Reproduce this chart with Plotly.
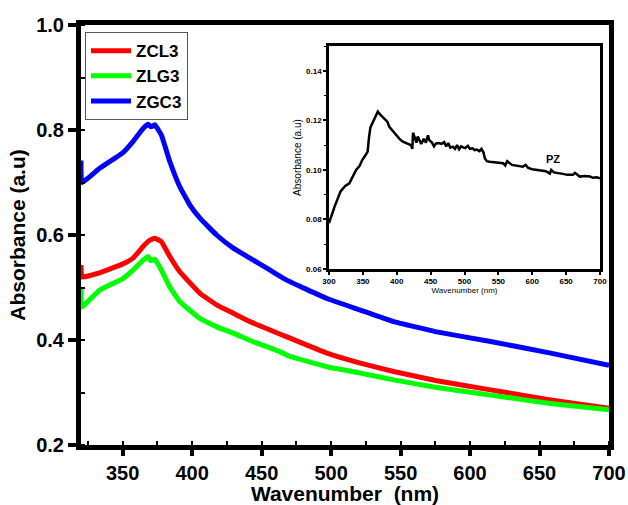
import plotly.graph_objects as go

# Main spectra (wavelength nm, absorbance)
zgc3_x = [320, 320.6, 333.4, 350.2, 357.4, 364.7, 368.3, 370.5, 373.1, 377.9, 383.9, 391.1, 398.4, 405.6, 417.6, 429.6, 441.6, 456.1, 468.1, 497, 521, 545, 575, 614.8, 658, 700]
zgc3_y = [0.742, 0.700, 0.727, 0.757, 0.778, 0.803, 0.811, 0.806, 0.810, 0.790, 0.740, 0.692, 0.657, 0.632, 0.600, 0.575, 0.556, 0.533, 0.514, 0.479, 0.457, 0.435, 0.416, 0.397, 0.375, 0.352]

zcl3_x = [320, 320.6, 333.4, 350.2, 357.4, 364.7, 369, 373.1, 377.9, 383.9, 391.1, 405.6, 417.6, 429.6, 441.6, 456.1, 468.1, 497, 521, 545, 575, 614.8, 658, 700]
zcl3_y = [0.543, 0.520, 0.528, 0.545, 0.556, 0.578, 0.589, 0.594, 0.587, 0.559, 0.530, 0.489, 0.467, 0.451, 0.435, 0.419, 0.406, 0.375, 0.356, 0.340, 0.323, 0.305, 0.286, 0.270]

zlg3_x = [320, 320.6, 333.4, 350.2, 357.4, 364.7, 368.3, 370.2, 373.1, 377.9, 383.9, 391.1, 405.6, 417.6, 429.6, 441.6, 456.1, 467, 469, 497, 521, 545, 575, 614.8, 658, 700]
zlg3_y = [0.499, 0.463, 0.495, 0.517, 0.533, 0.552, 0.559, 0.551, 0.554, 0.533, 0.501, 0.473, 0.441, 0.425, 0.413, 0.399, 0.385, 0.373, 0.370, 0.349, 0.337, 0.324, 0.310, 0.295, 0.279, 0.267]

# Inset PZ spectrum
pz_x = [300, 308, 317, 324, 330, 336, 340, 345, 349, 354, 357, 359, 361, 364, 368, 372, 375, 379, 383, 386, 389, 394, 399, 404, 409, 414, 418, 421, 423, 424, 426, 429, 431, 433, 436, 440, 443, 446, 448, 452, 455, 458, 462, 466, 470, 473, 476, 479, 483, 486, 489, 492, 495, 498, 501, 505, 508, 512, 515, 518, 522, 525, 528, 530, 533, 537, 545, 552, 557, 560, 563, 570, 578, 586, 590, 594, 600, 611, 620, 626, 628, 632, 636, 645, 652, 660, 663, 670, 678, 685, 690, 695, 700]
pz_y = [0.0785, 0.085, 0.0913, 0.0935, 0.0946, 0.0975, 0.100, 0.1015, 0.104, 0.106, 0.1074, 0.113, 0.117, 0.1188, 0.121, 0.1235, 0.1225, 0.1215, 0.1205, 0.1195, 0.1174, 0.1158, 0.1141, 0.1125, 0.1114, 0.1108, 0.1105, 0.1100, 0.1085, 0.1150, 0.1135, 0.1110, 0.1135, 0.1125, 0.1105, 0.1125, 0.1110, 0.1140, 0.1120, 0.1110, 0.1095, 0.1107, 0.1108, 0.1105, 0.1112, 0.1095, 0.1108, 0.1090, 0.1094, 0.1085, 0.1100, 0.1083, 0.1095, 0.1091, 0.1088, 0.1097, 0.1085, 0.1087, 0.1080, 0.1082, 0.1076, 0.1085, 0.1070, 0.1047, 0.1035, 0.1033, 0.1030, 0.1027, 0.1027, 0.1018, 0.1035, 0.1020, 0.1015, 0.1013, 0.1020, 0.1008, 0.1003, 0.1000, 0.0995, 0.0985, 0.1000, 0.0990, 0.0989, 0.0984, 0.0980, 0.0980, 0.0988, 0.0973, 0.0975, 0.0973, 0.0968, 0.0970, 0.0966]

main_xticks = [350, 400, 450, 500, 550, 600, 650, 700]
main_yticks = [0.2, 0.4, 0.6, 0.8, 1.0]
inset_xticks = [300, 350, 400, 450, 500, 550, 600, 650, 700]
inset_yticks = [0.06, 0.08, 0.10, 0.12, 0.14]

FONT = "Liberation Sans, Arial, sans-serif"

fig = go.Figure()
line_common = dict(width=5, shape="spline", smoothing=0.3)
fig.add_trace(go.Scatter(x=zcl3_x, y=zcl3_y, mode="lines", name="<b>ZCL3</b>",
                         line=dict(color="#ff0000", **line_common), legendgroup="a"))
fig.add_trace(go.Scatter(x=zlg3_x, y=zlg3_y, mode="lines", name="<b>ZLG3</b>",
                         line=dict(color="#00ff00", **line_common), legendgroup="b"))
fig.add_trace(go.Scatter(x=zgc3_x, y=zgc3_y, mode="lines", name="<b>ZGC3</b>",
                         line=dict(color="#0000ff", **line_common), legendgroup="c"))
fig.add_trace(go.Scatter(x=pz_x, y=pz_y, mode="lines", name="PZ", showlegend=False,
                         line=dict(color="#000000", width=2.5), xaxis="x2", yaxis="y2"))

fig.update_layout(
    width=628, height=505,
    margin=dict(l=81, r=19, t=25, b=60),
    paper_bgcolor="white", plot_bgcolor="white",
    font=dict(family=FONT, color="black"),
    showlegend=True,
    legend=dict(x=0.0076, y=0.983, xanchor="left", yanchor="top",
                bgcolor="white", bordercolor="#555555", borderwidth=1,
                font=dict(size=17, family=FONT, color="black"),
                tracegroupgap=0, itemwidth=40),
    xaxis=dict(range=[320, 700], tickvals=main_xticks, showgrid=False, zeroline=False, automargin=False,
               showline=True, linecolor="black", linewidth=5, mirror=True,
               ticks="outside", ticklen=6, tickwidth=4, tickcolor="black",
               minor=dict(ticks="inside", dtick=25, tick0=325, ticklen=4, tickwidth=1.5, tickcolor="black"),
               tickfont=dict(size=20, family=FONT, weight="bold"),
               title=dict(text="<b>Wavenumber  (nm)</b>", font=dict(size=21, family=FONT), standoff=2)),
    yaxis=dict(range=[0.2, 1.0], tickvals=main_yticks, tickformat=".1f", showgrid=False, zeroline=False, automargin=False,
               showline=True, linecolor="black", linewidth=5, mirror=True,
               ticks="outside", ticklen=8, tickwidth=4, tickcolor="black",
               minor=dict(ticks="inside", dtick=0.1, ticklen=4, tickwidth=1.5, tickcolor="black"),
               tickfont=dict(size=20, family=FONT, weight="bold"),
               title=dict(text="<b>Absorbance (a.u)</b>", font=dict(size=21, family=FONT), standoff=6)),
    xaxis2=dict(domain=[0.4697, 0.983], anchor="y2", range=[300, 700], tickvals=inset_xticks, automargin=False,
                showgrid=False, zeroline=False, showline=True, linecolor="black", linewidth=2.5, mirror=True,
                ticks="outside", ticklen=3, tickwidth=1.5, tickcolor="black",
                tickfont=dict(size=8, family=FONT, weight="bold"),
                title=dict(text="Wavenumber (nm)", font=dict(size=8, family=FONT), standoff=3)),
    yaxis2=dict(domain=[0.419, 0.95], anchor="x2", range=[0.06, 0.15], tickvals=inset_yticks, tickformat=".2f", automargin=False,
                showgrid=False, zeroline=False, showline=True, linecolor="black", linewidth=2.5, mirror=True,
                ticks="outside", ticklen=3, tickwidth=1.5, tickcolor="black",
                minor=dict(ticks="outside", dtick=0.01, ticklen=2, tickwidth=1, tickcolor="black"),
                tickfont=dict(size=8, family=FONT, weight="bold"),
                title=dict(text="Absorbance (a.u)", font=dict(size=10, family=FONT), standoff=3)),
    annotations=[dict(x=630, y=0.1045, xref="x2", yref="y2", text="<b>PZ</b>", showarrow=False,
                      font=dict(size=11, family=FONT, color="black"))],
)

fig.write_html("out.html")
